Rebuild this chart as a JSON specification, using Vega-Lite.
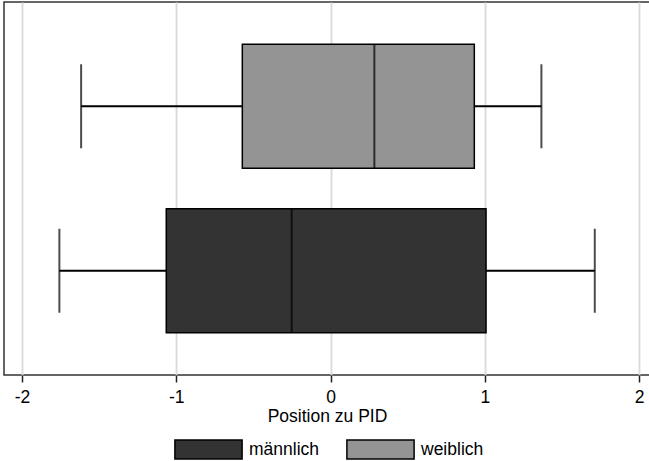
{
  "$schema": "https://vega.github.io/schema/vega-lite/v6.json",
  "width": 646,
  "height": 373,
  "autosize": {"type": "none"},
  "padding": {"left": 4, "top": 2, "right": 0, "bottom": 86},
  "background": "white",
  "config": {
    "view": {"stroke": "#333333", "strokeWidth": 1.5},
    "font": "Liberation Sans"
  },
  "data": {
    "values": [
      {"group": "männlich", "lower": -1.758, "q1": -1.065, "median": -0.252, "q3": 1.008, "upper": 1.713},
      {"group": "weiblich", "lower": -1.617, "q1": -0.572, "median": 0.284, "q3": 0.932, "upper": 1.367}
    ]
  },
  "encoding": {
    "y": {
      "field": "group",
      "type": "nominal",
      "scale": {"domain": ["weiblich", "männlich"], "paddingInner": 0, "paddingOuter": 0.134},
      "axis": null
    }
  },
  "layer": [
    {
      "mark": {"type": "rule", "color": "black", "strokeWidth": 2},
      "encoding": {
        "x": {
          "field": "lower",
          "type": "quantitative",
          "scale": {"domain": [-2.117, 2.071], "nice": false, "zero": false},
          "axis": {
            "values": [-2, -1, 0, 1, 2],
            "labelExpr": "datum.value < 0 ? '-' + abs(datum.value) : '' + datum.value",
            "grid": true,
            "gridColor": "#d9d9d9",
            "gridWidth": 1.8,
            "domain": false,
            "ticks": true,
            "tickColor": "#222222",
            "tickSize": 7,
            "tickWidth": 1.5,
            "labelFontSize": 17.5,
            "labelColor": "black",
            "labelPadding": 6,
            "title": "Position zu PID",
            "titleFontSize": 17.5,
            "titleFontWeight": "normal",
            "titleColor": "black",
            "titlePadding": 2
          }
        },
        "x2": {"field": "upper"}
      }
    },
    {
      "mark": {"type": "bar", "size": 124, "stroke": "black", "strokeWidth": 1.5},
      "encoding": {
        "x": {"field": "q1", "type": "quantitative"},
        "x2": {"field": "q3"},
        "color": {
          "field": "group",
          "type": "nominal",
          "scale": {"domain": ["männlich", "weiblich"], "range": ["#333333", "#949494"]},
          "legend": {
            "title": null,
            "orient": "none",
            "legendX": 193,
            "legendY": 436,
            "direction": "horizontal",
            "symbolType": "M-3.2,-0.9H3.2V0.9H-3.2Z",
            "symbolSize": 441,
            "symbolStrokeColor": "black",
            "symbolStrokeWidth": 1.5,
            "symbolOpacity": 1,
            "labelFontSize": 17.5,
            "labelColor": "black",
            "labelOffset": 29,
            "columnPadding": 23
          }
        }
      }
    },
    {
      "mark": {"type": "tick", "size": 124, "thickness": 2, "color": "black"},
      "encoding": {"x": {"field": "median", "type": "quantitative"}}
    },
    {
      "mark": {"type": "tick", "size": 84, "thickness": 2, "color": "black"},
      "encoding": {"x": {"field": "lower", "type": "quantitative"}}
    },
    {
      "mark": {"type": "tick", "size": 84, "thickness": 2, "color": "black"},
      "encoding": {"x": {"field": "upper", "type": "quantitative"}}
    }
  ]
}
